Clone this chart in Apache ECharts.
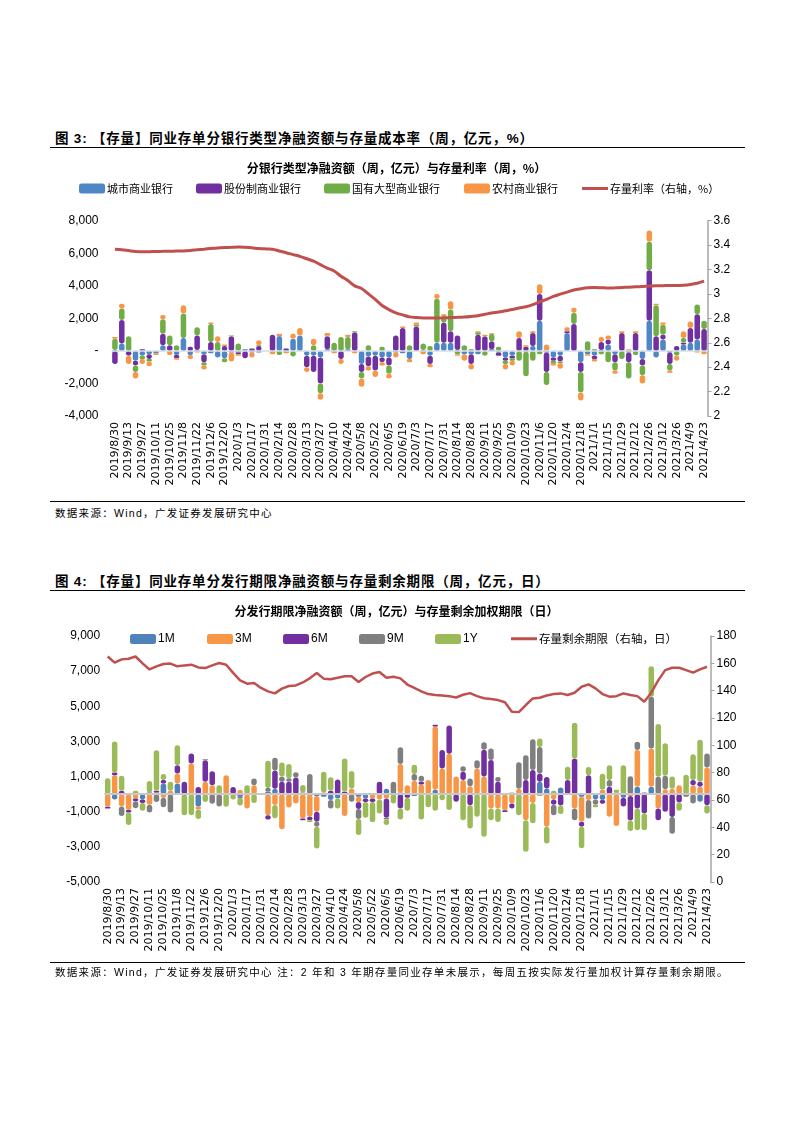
<!DOCTYPE html>
<html><head><meta charset="utf-8">
<script src="https://cdn.jsdelivr.net/npm/echarts@6/dist/echarts.min.js"></script>
<style>
body{margin:0;background:#fff;}
#page{position:relative;width:793px;height:1122px;background:#fff;font-family:"Liberation Sans","Noto Sans CJK SC",sans-serif;}
.title{position:absolute;left:55px;font-size:13.5px;font-weight:bold;color:#000;font-family:"Liberation Sans","Noto Sans CJK SC",sans-serif;white-space:nowrap;letter-spacing:0.8px;}
.rule{position:absolute;left:50px;width:695px;border-top:1.5px solid #000;}
.src{position:absolute;left:55px;font-size:10.5px;color:#000;font-family:"Liberation Sans","Noto Sans CJK SC",sans-serif;white-space:nowrap;letter-spacing:1.3px;}
.chart{position:absolute;left:0;width:793px;}
</style></head>
<body><div id="page">
<div class="title" style="top:127px">图 3: 【存量】同业存单分银行类型净融资额与存量成本率（周，亿元，%）</div>
<div class="rule" style="top:147px"></div>
<div id="c1" class="chart" style="top:150px;height:350px"></div>
<div class="rule" style="top:501px"></div>
<div class="src" style="top:505px">数据来源：Wind，广发证券发展研究中心</div>

<div class="title" style="top:570px">图 4: 【存量】同业存单分发行期限净融资额与存量剩余期限（周，亿元，日）</div>
<div class="rule" style="top:590px"></div>
<div id="c2" class="chart" style="top:593px;height:370px"></div>
<div class="rule" style="top:962px"></div>
<div class="src" style="top:964px">数据来源：Wind，广发证券发展研究中心 注：2 年和 3 年期存量同业存单未展示，每周五按实际发行量加权计算存量剩余期限。</div>
</div>
<script>
// ---------- categories ----------
var dates = [
"2019/8/30","2019/9/6","2019/9/13","2019/9/20","2019/9/27","2019/10/4","2019/10/11","2019/10/18","2019/10/25","2019/11/1",
"2019/11/8","2019/11/15","2019/11/22","2019/11/29","2019/12/6","2019/12/13","2019/12/20","2019/12/27",
"2020/1/3","2020/1/10","2020/1/17","2020/1/24","2020/1/31","2020/2/7","2020/2/14","2020/2/21","2020/2/28","2020/3/6",
"2020/3/13","2020/3/20","2020/3/27","2020/4/3","2020/4/10","2020/4/17","2020/4/24","2020/5/1","2020/5/8","2020/5/15",
"2020/5/22","2020/5/29","2020/6/5","2020/6/12","2020/6/19","2020/6/26","2020/7/3","2020/7/10","2020/7/17","2020/7/24",
"2020/7/31","2020/8/7","2020/8/14","2020/8/21","2020/8/28","2020/9/4","2020/9/11","2020/9/18","2020/9/25","2020/10/2",
"2020/10/9","2020/10/16","2020/10/23","2020/10/30","2020/11/6","2020/11/13","2020/11/20","2020/11/27","2020/12/4","2020/12/11",
"2020/12/18","2020/12/25","2021/1/1","2021/1/8","2021/1/15","2021/1/22","2021/1/29","2021/2/5","2021/2/12","2021/2/19",
"2021/2/26","2021/3/5","2021/3/12","2021/3/19","2021/3/26","2021/4/2","2021/4/9","2021/4/16","2021/4/23"];

// ---------- chart 1 data (亿元 / %) ----------
var cityBank = [50,450,0,-600,-300,-200,-150,350,0,-250,800,-250,50,-200,-150,-400,-450,-100,-100,100,
-100,-100,0,0,900,-50,750,950,-300,-300,-400,100,-50,0,100,0,-800,-350,-300,-400,
-400,-100,-150,-500,0,50,-300,500,500,500,50,-200,-200,-200,0,100,-100,-400,-300,0,
-50,300,1850,-100,-400,-300,1100,0,-700,-200,-300,50,400,-200,0,-100,0,-500,1850,-400,
700,-100,0,400,500,700,0];
var jointBank = [-800,1450,-300,-300,100,-300,0,700,350,-200,0,250,900,-500,550,0,300,900,-100,-450,
150,300,0,1000,50,150,0,0,-700,-1000,-1600,800,0,-500,0,1150,-500,-600,-900,-300,
-500,950,1400,0,1500,0,-500,0,1250,700,900,0,-600,1000,900,500,-200,-200,-150,800,
250,800,1650,-1200,-200,-350,100,1650,-600,0,-200,500,300,-500,1100,-600,1100,-400,3100,900,
300,-700,300,100,900,1550,1350];
var stateBank = [700,700,900,-400,-200,-150,0,900,600,350,1500,0,500,-200,1100,550,-250,50,450,0,
0,50,0,0,-250,0,-350,0,0,350,-600,50,500,850,750,50,-400,350,0,250,
-500,0,0,350,100,400,300,2700,400,1350,-200,350,100,150,-300,450,250,-200,-150,-600,
-1500,-600,-200,-800,-150,-100,0,700,-1250,600,100,-200,-700,-500,-500,-1000,-250,-600,1750,1900,
600,-400,-300,300,0,600,500];
var ruralBank = [100,300,-500,-400,-300,-300,-100,250,-250,-100,500,-250,-100,-250,100,350,100,-550,-100,0,
-300,300,0,-200,100,-100,300,450,-300,400,-400,150,-100,-300,150,-150,-500,-250,-400,-200,
-300,-300,100,-200,150,-200,-200,300,100,500,-100,-400,-350,50,100,50,0,-350,-300,400,
100,100,600,400,-150,-350,250,300,-500,-100,-150,300,250,-200,100,100,100,-500,700,100,
150,-150,-300,400,400,-100,-200];
var stockRate = [3.367,3.362,3.355,3.348,3.345,3.346,3.348,3.349,3.350,3.351,3.352,3.356,3.362,3.367,3.372,3.377,3.380,3.382,3.384,3.382,
3.378,3.372,3.369,3.367,3.352,3.338,3.322,3.308,3.288,3.268,3.240,3.212,3.188,3.145,3.110,3.066,3.045,3.000,2.955,2.905,
2.872,2.845,2.828,2.812,2.806,2.803,2.803,2.803,2.804,2.806,2.808,2.811,2.816,2.822,2.833,2.844,2.852,2.862,2.872,2.885,
2.895,2.912,2.935,2.955,2.980,2.998,3.015,3.032,3.042,3.050,3.053,3.051,3.048,3.050,3.053,3.055,3.058,3.061,3.064,3.067,
3.068,3.069,3.069,3.072,3.078,3.088,3.105];

// ---------- chart 2 data (亿元 / 日) ----------
var m1 = [0,-300,0,0,0,-300,0,0,600,0,600,0,0,-720,0,0,0,0,0,-150,
0,0,0,150,300,0,0,0,0,0,-100,-150,-340,-250,0,0,-150,-250,0,0,
300,0,100,0,-100,0,0,250,0,0,0,0,0,0,0,0,0,0,0,0,
0,0,700,320,0,380,0,0,-150,0,-300,-340,0,0,-200,0,420,0,420,0,
0,0,0,0,0,-440,0];
var m3 = [-720,1080,-700,-900,-250,0,-600,100,-200,200,570,0,1750,-150,700,500,0,1080,0,230,
-820,510,0,-1200,-620,-2000,-760,-530,-1380,-1290,-900,100,0,0,-1250,320,-300,0,-250,-300,
-250,0,1620,500,760,550,800,3600,1460,2300,1000,800,450,1460,1000,-820,-820,-910,-530,300,
-1480,-500,-100,-1860,-300,0,0,-820,-1420,-340,0,250,-1290,-1820,0,-100,2090,0,2180,-820,
280,300,510,0,510,420,1520];
var m6 = [-100,150,200,-150,-150,-200,100,100,200,0,470,700,570,400,1230,800,0,0,400,-50,
0,0,0,-250,1050,700,700,950,-100,-200,-570,0,200,840,130,0,-400,-200,-200,700,
-1100,0,-820,-200,0,150,0,100,1050,1610,-440,470,-630,0,1520,1940,700,-100,-280,0,
800,1370,470,650,-300,-650,800,2030,-280,1080,0,-200,420,0,-500,-1400,-820,-1100,0,-660,
-1000,-1300,-470,0,300,280,-630];
var m9 = [0,0,-550,0,-400,0,-450,-450,-550,-1050,0,0,0,0,60,-550,-700,0,0,0,
0,380,0,200,720,300,200,300,100,1140,-280,0,-470,0,0,-440,-570,0,0,0,
-100,700,950,0,380,350,0,0,0,0,0,320,440,470,430,660,280,0,0,1520,
1420,1750,1520,0,-600,0,0,-660,0,-1040,-300,0,380,100,0,1020,470,100,2940,990,
760,-950,0,-150,-530,0,800];
var y1 = [900,1760,850,-700,200,-450,650,2300,350,500,1140,-1200,-1200,-550,-450,0,500,-720,-300,-450,
500,-500,0,1550,-750,800,820,0,420,-100,-1250,1180,760,-570,1900,1000,-910,-900,-1150,-800,
-300,-530,-630,-750,530,-1450,-750,-950,-350,-900,0,-1480,-1330,-1290,-2430,-660,-760,0,100,-1200,
-1800,-1150,480,-950,200,-480,760,2030,-1230,470,-150,910,850,150,1650,-600,-1230,-950,1740,3000,
1860,700,-470,1100,1460,2400,-470];
var remainTerm = [165,160.5,162.9,163.4,165,160,155.5,157.8,159.5,159.8,157.8,158.5,159,157,156.5,158.5,160.2,159,153,147.5,
145.1,145.6,142,139.5,138,141.5,143.4,143.8,146,149,152.9,148.8,148.3,149.5,150.5,150.5,146.3,150,152.5,153.6,
149.5,150.2,149,144.5,142,139.5,137.5,136.8,136.4,136,135,137,138.2,136,134.5,133.9,133.1,131.5,124.6,124.3,
129.5,134.3,134.8,136.5,137.5,138,136.8,138.5,142.9,144.6,141.7,137.5,135.6,136,138,136.8,136,131.9,138.5,147.5,
155,156.8,156.8,155,153.2,155.6,157.5];

// ---------- labels ----------
var names1 = ["城市商业银行","股份制商业银行","国有大型商业银行","农村商业银行","存量利率（右轴，%）"];
var names2 = ["1M","3M","6M","9M","1Y","存量剩余期限（右轴，日）"];

var NUM = '"Liberation Sans", Arial, sans-serif';
var XLAB = '"DejaVu Sans", "Liberation Sans", sans-serif';
var CJK = '"Noto Sans CJK SC", "Liberation Sans", sans-serif';

function leftFmt(v){ return v === 0 ? '-' : v.toLocaleString('en-US'); }

function legendItem(name, left, top, isLine, font, size){
  return {
    data:[name], left:left, top:top, itemWidth:26, itemHeight: isLine ? 3 : 10, itemGap:0,
    icon: isLine ? 'rect' : 'roundRect',
    selectedMode:false,
    textStyle:{fontSize:size, fontFamily:font, color:'#000', padding:[0,0,0,-3]}
  };
}

function xAxisDef(){
  return {type:'category', data:dates, boundaryGap:true,
    axisLine:{show:false}, axisTick:{show:false},
    axisLabel:{interval:1, rotate:90, fontSize:11, fontFamily:XLAB, color:'#000', margin:6}};
}

function barSeries(name, data, color, width){
  return {name:name, type:'bar', stack:'all', data:data, barWidth:width,
    itemStyle:{color:color, borderRadius:width/2}, z:2};
}

// ---------- chart 1 ----------
var c1 = echarts.init(document.getElementById('c1'));
var col1 = ['#4F86C6','#7030A0','#70AD47','#F79646','#C0504D'];
var s1 = [
  barSeries(names1[0], cityBank, col1[0], 5.5),
  barSeries(names1[1], jointBank, col1[1], 5.5),
  barSeries(names1[2], stateBank, col1[2], 5.5),
  barSeries(names1[3], ruralBank, col1[3], 5.5),
  {name:names1[4], type:'line', yAxisIndex:1, data:stockRate, smooth:0.3, symbol:'none',
   lineStyle:{color:col1[4], width:3}, itemStyle:{color:col1[4]}, z:4}
];
s1[0].markLine = {silent:true, symbol:'none', label:{show:false}, data:[{yAxis:0}],
  lineStyle:{color:'#D6DCE5', width:1.5, type:'solid'}};
c1.setOption({
  animation:false,
  title:{text:'分银行类型净融资额（周，亿元）与存量利率（周，%）', left:'center', top:7,
    textStyle:{fontSize:12, fontWeight:'bold', fontFamily:CJK, color:'#000'}},
  legend:[
    legendItem(names1[0], 74, 28, false, CJK, 11),
    legendItem(names1[1], 191, 28, false, CJK, 11),
    legendItem(names1[2], 319, 28, false, CJK, 11),
    legendItem(names1[3], 459, 28, false, CJK, 11),
    legendItem(names1[4], 577, 28, true, CJK, 11)
  ],
  grid:{left:111.5, right:85.5, top:70.7, bottom:84},
  xAxis:xAxisDef(),
  yAxis:[
    {type:'value', min:-4000, max:8000, interval:2000, splitLine:{show:false},
     axisLine:{show:false}, axisTick:{show:false},
     axisLabel:{formatter:leftFmt, fontSize:12, fontFamily:NUM, color:'#000', margin:13}},
    {type:'value', position:'right', min:2, max:3.6, interval:0.2, splitLine:{show:false},
     axisLine:{show:true, lineStyle:{color:'#A6A6A6', width:1.5}},
     axisTick:{show:true, length:4, lineStyle:{color:'#A6A6A6'}},
     axisLabel:{formatter:function(v){return String(Math.round(v*10)/10);}, fontSize:12, fontFamily:NUM, color:'#000', margin:6}}
  ],
  series:s1
});

// ---------- chart 2 ----------
var c2 = echarts.init(document.getElementById('c2'));
var col2 = ['#4F81BD','#F79646','#7030A0','#7F7F7F','#9BBB59','#C0504D'];
var s2 = [
  barSeries(names2[0], m1, col2[0], 5.5),
  barSeries(names2[1], m3, col2[1], 5.5),
  barSeries(names2[2], m6, col2[2], 5.5),
  barSeries(names2[3], m9, col2[3], 5.5),
  barSeries(names2[4], y1, col2[4], 5.5),
  {name:names2[5], type:'line', yAxisIndex:1, data:remainTerm, smooth:false, symbol:'none',
   lineStyle:{color:col2[5], width:2.5}, itemStyle:{color:col2[5]}, z:4}
];
s2[0].markLine = {silent:true, symbol:'none', label:{show:false}, data:[{yAxis:0}],
  lineStyle:{color:'#C8C8C8', width:2, type:'solid'}};
c2.setOption({
  animation:false,
  title:{text:'分发行期限净融资额（周，亿元）与存量剩余加权期限（日）', left:'center', top:7,
    textStyle:{fontSize:12, fontWeight:'bold', fontFamily:CJK, color:'#000'}},
  legend:[
    legendItem(names2[0], 125, 35, false, NUM, 12),
    legendItem(names2[1], 202, 35, false, NUM, 12),
    legendItem(names2[2], 278, 35, false, NUM, 12),
    legendItem(names2[3], 354, 35, false, NUM, 12),
    legendItem(names2[4], 430, 35, false, NUM, 12),
    legendItem(names2[5], 506, 35, true, CJK, 11.5)
  ],
  grid:{left:104.2, right:82.5, top:43, bottom:81},
  xAxis:xAxisDef(),
  yAxis:[
    {type:'value', min:-5000, max:9000, interval:2000, splitLine:{show:false},
     axisLine:{show:false}, axisTick:{show:false},
     axisLabel:{formatter:leftFmt, fontSize:12, fontFamily:NUM, color:'#000', margin:4}},
    {type:'value', position:'right', min:0, max:180, interval:20, splitLine:{show:false},
     axisLine:{show:true, lineStyle:{color:'#A6A6A6', width:1.5}},
     axisTick:{show:true, length:4, lineStyle:{color:'#A6A6A6'}},
     axisLabel:{fontSize:12, fontFamily:NUM, color:'#000', margin:6}}
  ],
  series:s2
});
</script>
</body></html>
